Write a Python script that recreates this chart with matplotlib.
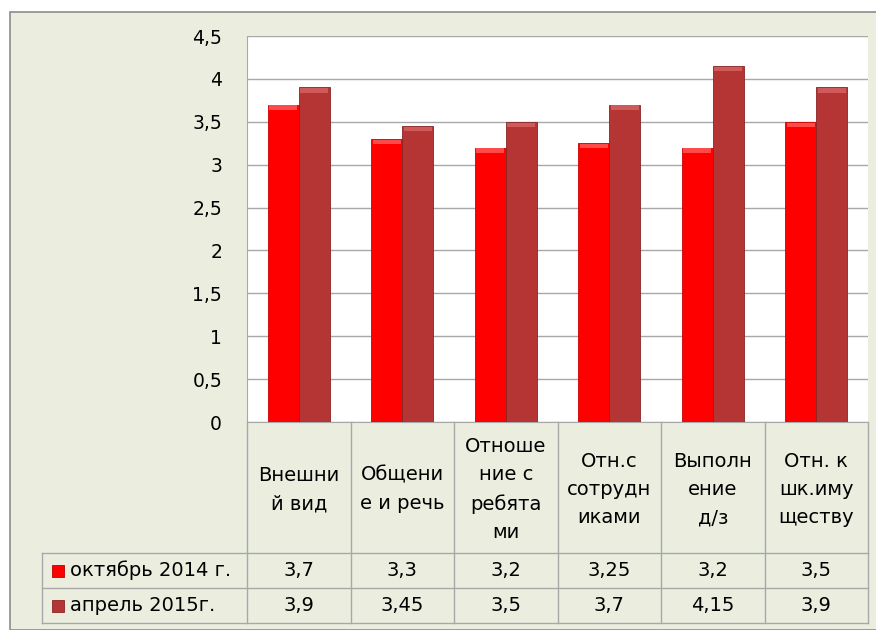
import matplotlib
matplotlib.use("Agg")
import matplotlib.pyplot as plt
from matplotlib.lines import Line2D
from matplotlib.patches import Rectangle
import numpy as np

categories = ["Внешни\nй вид", "Общени\nе и речь", "Отноше\nние с\nребята\nми",
              "Отн.с\nсотрудн\nиками", "Выполн\nение\nд/з", "Отн. к\nшк.иму\nществу"]
oct_2014 = [3.7, 3.3, 3.2, 3.25, 3.2, 3.5]
apr_2015 = [3.9, 3.45, 3.5, 3.7, 4.15, 3.9]
series_names = ["октябрь 2014 г.", "апрель 2015г."]
yticks = [0, 0.5, 1, 1.5, 2, 2.5, 3, 3.5, 4, 4.5]

W, H = 876, 630
bg = "#ebeedf"
grid_c = "#a8a8a8"
red = "#ff0000"
dark = "#b53535"
fs = 14

fig = plt.figure(figsize=(W / 100, H / 100), dpi=100)
fig.patch.set_facecolor("white")


def fx(x):
    return x / W


def fy(y):
    return 1 - y / H


# outer frame
fig.add_artist(Rectangle((fx(10), 0), 1, fy(12), transform=fig.transFigure,
                         facecolor=bg, edgecolor="#8c8c8c", lw=1.2, zorder=0))

left, right, top, bottom = 247, 868, 36, 422
ax = fig.add_axes([fx(left), fy(bottom), fx(right) - fx(left), fy(top) - fy(bottom)])
ax.set_facecolor("white")

x = np.arange(len(categories))
w = 0.3
ax.bar(x - 0.15, oct_2014, w, color=red, edgecolor="#d00000", lw=0.6, zorder=3)
ax.bar(x + 0.15, apr_2015, w, color=dark, edgecolor="#8a2424", lw=0.6, zorder=3)
# bevel highlight on top of bars
ax.bar(x - 0.15, [0.05] * len(x), w * 0.9, bottom=np.array(oct_2014) - 0.06,
       color="#ff4a4a", lw=0, zorder=4)
ax.bar(x + 0.15, [0.05] * len(x), w * 0.9, bottom=np.array(apr_2015) - 0.06,
       color="#d05a5a", lw=0, zorder=4)

ax.set_xlim(-0.5, len(categories) - 0.5)
ax.set_ylim(0, 4.5)
ax.set_yticks(yticks)
ax.set_yticklabels([str(t).replace(".", ",").replace(",0", "") for t in yticks])
ax.tick_params(axis="y", length=0, pad=18, labelsize=13.5)
ax.set_xticks([])
ax.yaxis.grid(True, color=grid_c, lw=1)
ax.set_axisbelow(True)
for s in ["top", "right"]:
    ax.spines[s].set_visible(False)
ax.spines["left"].set_color(grid_c)
ax.spines["bottom"].set_color(grid_c)

# data table
tab_left = 42
row_y = [bottom, 553, 588, 623]
col_x = [left + (right - left) * i / len(categories) for i in range(len(categories) + 1)]


def line(x0, y0, x1, y1):
    fig.add_artist(Line2D([fx(x0), fx(x1)], [fy(y0), fy(y1)], transform=fig.transFigure,
                          color=grid_c, lw=1))


for cx in col_x:
    line(cx, bottom, cx, row_y[-1])
line(tab_left, row_y[1], tab_left, row_y[-1])
for ry in row_y[1:]:
    line(tab_left, ry, right, ry)

for i, c in enumerate(categories):
    cx = (col_x[i] + col_x[i + 1]) / 2
    fig.text(fx(cx), fy((row_y[0] + row_y[1]) / 2 + 2), c, ha="center", va="center",
             fontsize=fs, linespacing=1.62)

for r, (vals, name, col) in enumerate(zip([oct_2014, apr_2015], series_names, [red, dark])):
    cy = (row_y[r + 1] + row_y[r + 2]) / 2
    for i, v in enumerate(vals):
        cx = (col_x[i] + col_x[i + 1]) / 2
        fig.text(fx(cx), fy(cy), str(v).replace(".", ","), ha="center", va="center", fontsize=fs)
    fig.add_artist(Rectangle((fx(52), fy(cy + 6)), fx(12), 12 / H, transform=fig.transFigure,
                             facecolor=col, edgecolor="#8a2424" if r else "#c00000", lw=0.6))
    fig.text(fx(70), fy(cy), name, ha="left", va="center", fontsize=fs)

fig.savefig("out.png", dpi=100, facecolor=fig.get_facecolor())
